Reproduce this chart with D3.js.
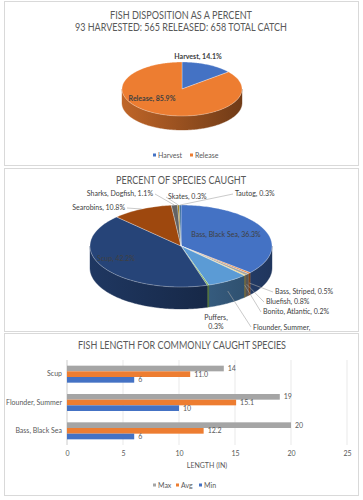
<!DOCTYPE html>
<html>
<head>
<meta charset="utf-8">
<script src="https://cdn.jsdelivr.net/npm/d3@7"></script>
<style>
body{margin:0;background:#fff;}
text{font-family:Lato, "Open Sans", sans-serif;}
</style>
</head>
<body>
<div class="chart"></div>
<script>
var dispositionNames = ["Harvest", "Release"];
var dispositionValues = [14.1, 85.9];

var speciesNames = ["Bass, Black Sea", "Bass, Striped", "Bluefish", "Bonito, Atlantic", "Flounder, Summer", "Puffers", "Scup", "Searobins", "Sharks, Dogfish", "Skates", "Tautog"];
var speciesValues = [36.3, 0.5, 0.8, 0.2, 7.3, 0.3, 42.2, 10.8, 1.1, 0.3, 0.3];

var lengthSpecies = ["Scup", "Flounder, Summer", "Bass, Black Sea"];
var lengthSeries = ["Max", "Avg", "Min"];
var lengthMax = [14, 19, 20];
var lengthAvg = [11.0, 15.1, 12.2];
var lengthMin = [6, 10, 6];
var lengthTicks = [0, 5, 10, 15, 20, 25];

var dispositionColors = ["#4472C4", "#ED7D31"];
var speciesColors = ["#4472C4", "#ED7D31", "#A5A5A5", "#FFC000", "#5B9BD5", "#70AD47", "#264478", "#9E480E", "#636363", "#997300", "#255E91"];
var seriesColors = {Max: "#A5A5A5", Avg: "#ED7D31", Min: "#4472C4"};

var w = 363, h = 500;
var svg = d3.select(".chart").append("svg").attr("width", w).attr("height", h);
var defs = svg.append("defs");

function panel(y0, y1, id){
    defs.append("clipPath").attr("id", "clip" + id)
        .append("rect").attr("x", 4).attr("y", y0).attr("width", 355).attr("height", y1 - y0);
    svg.append("rect")
        .attr("x", 4.5).attr("y", y0 + 0.5)
        .attr("width", 354).attr("height", y1 - y0 - 1)
        .attr("fill", "#fff").attr("stroke", "#d9d9d9");
    return svg.append("g").attr("clip-path", "url(#clip" + id + ")");
}

//titles are squeezed to the width they have in the original (Calibri-like)
function title(g, lines, widths, x, y){
    lines.forEach(function(t, i){
        g.append("text").attr("x", x).attr("y", y + i * 12)
            .attr("text-anchor", "middle")
            .attr("font-size", "10.5px")
            .attr("fill", "#595959")
            .attr("textLength", widths[i])
            .attr("lengthAdjust", "spacingAndGlyphs")
            .text(t);
    });
}

//3D-ish pie: side walls first, then top faces
function pie3d(g, values, colors, p, id){
    var arcs = d3.pie().sort(null)(values);
    var pt = function(a, dy){
        return [p.cx + p.rx * Math.sin(a), p.cy - p.ry * Math.cos(a) + (dy || 0)];
    };
    arcs.forEach(function(d, i){
        var c = d3.color(colors[i]);
        var grad = defs.append("linearGradient").attr("id", "g" + id + i)
            .attr("gradientUnits", "userSpaceOnUse")
            .attr("x1", p.cx - p.rx).attr("x2", p.cx + p.rx).attr("y1", 0).attr("y2", 0);
        grad.append("stop").attr("offset", "0%").attr("stop-color", c.darker(0.6));
        grad.append("stop").attr("offset", "100%").attr("stop-color", c.darker(2.1));

        var s = Math.max(d.startAngle, Math.PI / 2), e = Math.min(d.endAngle, 3 * Math.PI / 2);
        if(e <= s) return;
        var angles = d3.range(s, e, 0.02).concat([e]);
        var top = angles.map(function(a){ return pt(a); });
        var bot = angles.slice().reverse().map(function(a){ return pt(a, p.depth); });
        g.append("path")
            .attr("d", d3.line()(top.concat(bot)) + "Z")
            .attr("fill", "url(#g" + id + i + ")")
            .attr("stroke", "url(#g" + id + i + ")").attr("stroke-width", 0.4);
    });
    arcs.forEach(function(d, i){
        var angles = d3.range(d.startAngle, d.endAngle, 0.02).concat([d.endAngle]);
        var pts = [[p.cx, p.cy]].concat(angles.map(function(a){ return pt(a); }));
        g.append("path")
            .attr("d", d3.line()(pts) + "Z")
            .attr("fill", colors[i])
            .attr("stroke", "#ffffff").attr("stroke-opacity", 0.6).attr("stroke-width", 0.5);
    });
    return {arcs: arcs, pt: pt};
}

// ---------- Chart 1: disposition ----------
var g1 = panel(1, 166, 1);
title(g1, ["FISH DISPOSITION AS A PERCENT", "93 HARVESTED: 565 RELEASED: 658 TOTAL CATCH"], [142, 212], 181, 19);
pie3d(g1, dispositionValues, dispositionColors, {cx: 182, cy: 89, rx: 60, ry: 27, depth: 14}, "a");

var pieLabels1 = [[198, 59], [152, 101]];
dispositionNames.forEach(function(n, i){
    g1.append("text")
        .attr("x", pieLabels1[i][0]).attr("y", pieLabels1[i][1])
        .attr("text-anchor", "middle")
        .attr("font-size", "7px").attr("font-weight", "bold")
        .attr("fill", "#404040")
        .text(n + ", " + dispositionValues[i].toFixed(1) + "%");
});

var leg1 = [153, 190];
dispositionNames.forEach(function(n, i){
    g1.append("rect").attr("x", leg1[i]).attr("y", 153.5).attr("width", 3).attr("height", 3).attr("fill", dispositionColors[i]);
    g1.append("text").attr("x", leg1[i] + 5).attr("y", 157.5)
        .attr("font-size", "7px").attr("fill", "#595959").text(n);
});

// ---------- Chart 2: species ----------
var g2 = panel(168, 332, 2);
title(g2, ["PERCENT OF SPECIES CAUGHT"], [130], 181, 184);
var p2 = {cx: 181, cy: 246, rx: 91, ry: 41, depth: 22};
var pie2 = pie3d(g2, speciesValues, speciesColors, p2, "b");

//label layout: [x, y, anchor, leader end x, leader end y]
var speciesLabelPos = {
    "Bass, Black Sea": [226, 237, "middle", null, null],
    "Bass, Striped": [275, 294, "start", 273, 292],
    "Bluefish": [266, 304, "start", 264, 302],
    "Bonito, Atlantic": [263, 314, "start", 261, 312],
    "Flounder, Summer": [253, 330, "start", 251, 327],
    "Puffers": [216, 320, "middle", null, null],
    "Scup": [116, 261, "middle", null, null],
    "Searobins": [125, 210, "end", 127, 208],
    "Sharks, Dogfish": [153, 196, "end", 155, 194],
    "Skates": [168, 199, "start", 166, 197],
    "Tautog": [235, 196, "start", 233, 194]
};

pie2.arcs.forEach(function(d, i){
    var name = speciesNames[i];
    var lp = speciesLabelPos[name];
    var label = name + ", " + speciesValues[i].toFixed(1) + "%";
    if(lp[3] != null){
        var mid = (d.startAngle + d.endAngle) / 2;
        var front = Math.cos(mid) < 0;
        var sp = pie2.pt(mid, front ? p2.depth * 0.45 : 0);
        g2.append("polyline")
            .attr("points", [sp, [lp[3], lp[4]]].map(function(q){ return q.join(","); }).join(" "))
            .attr("fill", "none").attr("stroke", "#a6a6a6").attr("stroke-width", 0.6);
    }
    var t = g2.append("text")
        .attr("x", lp[0]).attr("y", lp[1])
        .attr("text-anchor", lp[2])
        .attr("font-size", "7px")
        .attr("fill", "#404040");
    if(name == "Puffers" || name == "Flounder, Summer"){
        t.append("tspan").attr("x", lp[0]).text(name + ",");
        t.append("tspan").attr("x", lp[0]).attr("dy", 9).text(speciesValues[i].toFixed(1) + "%");
    } else {
        t.text(label);
    }
});

// ---------- Chart 3: lengths ----------
var g3 = panel(333, 496, 3);
title(g3, ["FISH LENGTH FOR COMMONLY CAUGHT SPECIES"], [208], 182, 349);

var xScale = d3.scaleLinear().domain([0, 25]).range([67, 347]);
var yScale = d3.scaleBand().domain(lengthSpecies).range([360, 445]).paddingInner(0.4).paddingOuter(0.2);
var subScale = d3.scaleBand().domain(lengthSeries).range([0, yScale.bandwidth()]);

g3.selectAll(".grid")
    .data(lengthTicks)
    .enter()
    .append("line")
    .attr("x1", function(d){ return xScale(d); })
    .attr("x2", function(d){ return xScale(d); })
    .attr("y1", 360).attr("y2", 445)
    .attr("stroke", function(d){ return d == 0 ? "#bfbfbf" : "#e3e3e3"; })
    .attr("stroke-width", 0.8);

var xAxis = d3.axisBottom(xScale).tickValues(lengthTicks).tickSize(0).tickPadding(6);
var ax = g3.append("g").attr("transform", "translate(0,445)").call(xAxis);
ax.select(".domain").remove();
ax.selectAll("text").attr("font-size", "7px").attr("fill", "#595959").attr("font-family", "Lato, sans-serif");

var yAxis = d3.axisLeft(yScale).tickSize(0).tickPadding(5);
var ay = g3.append("g").attr("transform", "translate(67,0)").call(yAxis);
ay.select(".domain").remove();
ay.selectAll("text").attr("font-size", "7px").attr("fill", "#595959").attr("font-family", "Lato, sans-serif");

var seriesData = {Max: lengthMax, Avg: lengthAvg, Min: lengthMin};
var seriesFmt = {Max: d3.format("d"), Avg: d3.format(".1f"), Min: d3.format("d")};

lengthSeries.forEach(function(s){
    var grp = g3.append("g");
    grp.selectAll("rect")
        .data(seriesData[s])
        .enter()
        .append("rect")
        .attr("x", xScale(0))
        .attr("y", function(d, i){ return yScale(lengthSpecies[i]) + subScale(s); })
        .attr("width", function(d){ return xScale(d) - xScale(0); })
        .attr("height", subScale.bandwidth())
        .attr("fill", seriesColors[s]);
    grp.selectAll("text")
        .data(seriesData[s])
        .enter()
        .append("text")
        .attr("x", function(d){ return xScale(d) + 4; })
        .attr("y", function(d, i){ return yScale(lengthSpecies[i]) + subScale(s) + subScale.bandwidth() / 2 + 2.5; })
        .attr("font-size", "7px")
        .attr("fill", "#595959")
        .text(function(d){ return seriesFmt[s](d); });
});

g3.append("text").attr("x", 207).attr("y", 468)
    .attr("text-anchor", "middle").attr("font-size", "7px").attr("fill", "#595959")
    .text("LENGTH (IN)");

var leg3 = [153, 176, 199];
lengthSeries.forEach(function(s, i){
    g3.append("rect").attr("x", leg3[i]).attr("y", 483.5).attr("width", 3).attr("height", 3).attr("fill", seriesColors[s]);
    g3.append("text").attr("x", leg3[i] + 5).attr("y", 487.5)
        .attr("font-size", "7px").attr("fill", "#595959").text(s);
});
</script>
</body>
</html>
